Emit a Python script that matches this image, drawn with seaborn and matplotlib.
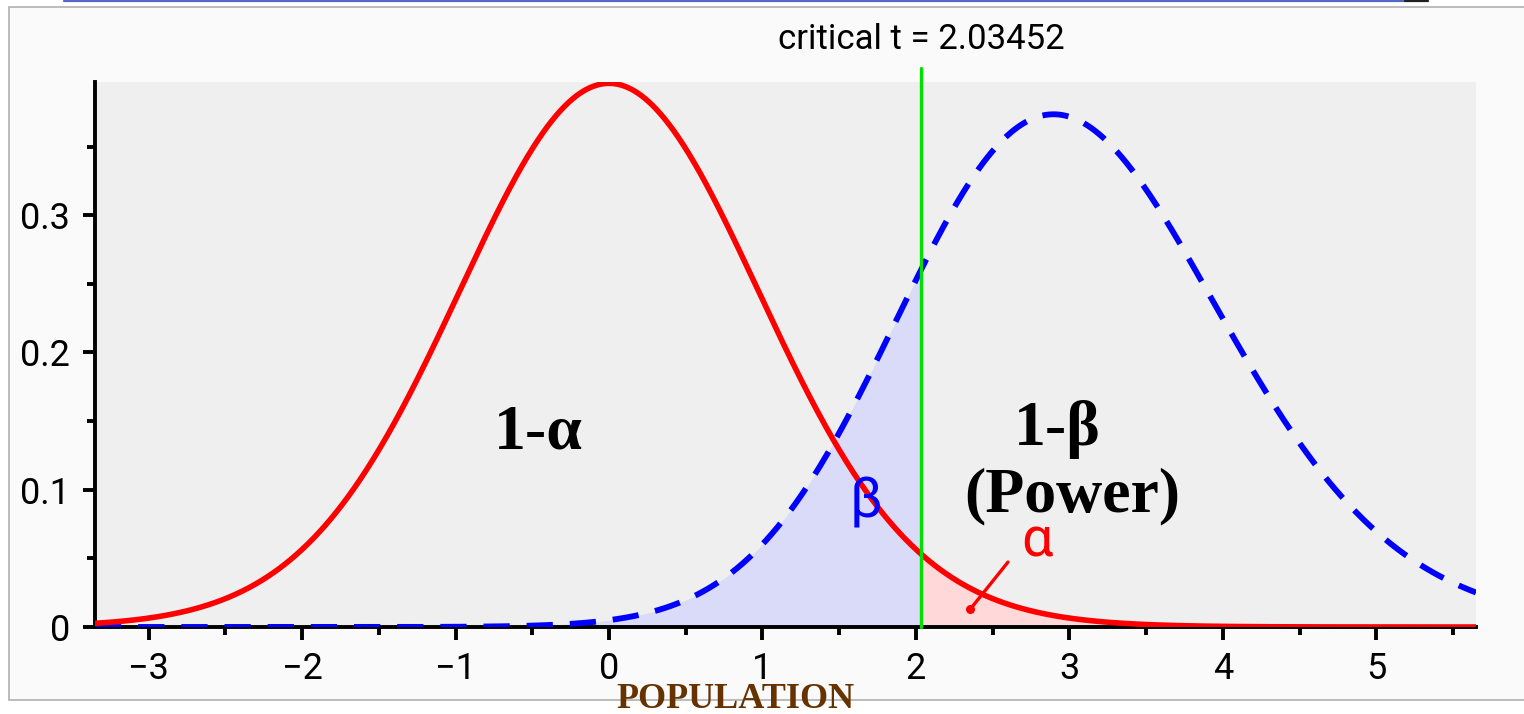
import math

import numpy as np
import pandas as pd
import matplotlib
matplotlib.use("Agg")
import matplotlib.pyplot as plt
from matplotlib.patches import Rectangle
from matplotlib.lines import Line2D
from matplotlib.ticker import MultipleLocator
import seaborn as sns

# Two-sided t test at alpha = 0.05: central t under H0, noncentral t under H1
df_t = 34
noncentrality = 2.95804
critical_t = 2.03452

x_limits = [-3.35, 5.65]
y_limits = [0.0, 0.397]
x_major_ticks = [-3, -2, -1, 0, 1, 2, 3, 4, 5]
y_major_ticks = [0.0, 0.1, 0.2, 0.3]
y_tick_labels = ["0", "0.1", "0.2", "0.3"]

region_labels = ["1-α", "1-β", "(Power)"]
error_labels = ["β", "α"]
bottom_title = "POPULATION"

W, H = 1524, 714


def t_pdf(x, nu):
    c = math.exp(math.lgamma((nu + 1) / 2) - math.lgamma(nu / 2)) / math.sqrt(nu * math.pi)
    return c * (1.0 + x ** 2 / nu) ** (-(nu + 1) / 2)


def nct_pdf(x, nu, delta, n_grid=3000):
    # f(t) = E_S[ S * phi(t*S - delta) ],  S = sqrt(V / nu), V ~ chi2(nu)
    s = np.linspace(0.15, 2.5, n_grid)
    log_h = (math.log(2) + (nu / 2) * math.log(nu / 2) - math.lgamma(nu / 2)
             + (nu - 1) * np.log(s) - nu * s ** 2 / 2)
    h = np.exp(log_h)
    z = np.outer(x, s) - delta
    phi = np.exp(-0.5 * z ** 2) / math.sqrt(2 * math.pi)
    return np.trapezoid(phi * s * h, s, axis=1)


x = np.union1d(np.linspace(x_limits[0], x_limits[1], 1201), [critical_t])
curves = pd.DataFrame({
    "t": x,
    "H0": t_pdf(x, df_t),
    "H1": nct_pdf(x, df_t, noncentrality),
})

sns.set_theme(style="ticks")
plt.rcParams["font.family"] = ["Roboto", "DejaVu Sans"]
serif_bold = ["Liberation Serif", "DejaVu Serif"]

fig = plt.figure(figsize=(W / 100, H / 100), dpi=100, facecolor="white")

# window panel behind the plot
fig.add_artist(Rectangle((9 / W, 1 - 700 / H), 1.0, (700 - 7) / H,
                         transform=fig.transFigure, facecolor="#fafafa",
                         edgecolor="#b0b0b0", lw=1.2, zorder=-5))
fig.add_artist(Line2D([64 / W, 1405 / W], [1 - 0.8 / H] * 2, transform=fig.transFigure,
                      color="#5468c8", lw=1.6, zorder=-4))
fig.add_artist(Line2D([1405 / W, 1428 / W], [1 - 0.8 / H] * 2, transform=fig.transFigure,
                      color="#202020", lw=1.6, zorder=-4))

ax = fig.add_axes([95 / W, 1 - 627 / H, (1476 - 95) / W, (627 - 82) / H])
ax.set_facecolor("#efefef")

# shaded error regions
left = curves["t"] <= critical_t
right = curves["t"] >= critical_t
ax.fill_between(curves["t"][left], curves["H1"][left], color="#dadaf9", lw=0, zorder=1)
ax.fill_between(curves["t"][right], curves["H0"][right], color="#ffd9d9", lw=0, zorder=1)

sns.lineplot(data=curves, x="t", y="H1", color="#0000ff", lw=4.2, ax=ax, zorder=3)
ax.lines[-1].set_dashes((4.5, 2.9))
sns.lineplot(data=curves, x="t", y="H0", color="#ff0000", lw=4.0, ax=ax, zorder=4)

# critical value marker
ax.plot([critical_t, critical_t], [0, 0.407], color="#00e000", lw=2.4,
        clip_on=False, zorder=5)
ax.text(critical_t, 0.4209, f"critical t = {critical_t:.5f}", ha="center",
        va="baseline", fontsize=25, color="black", clip_on=False)

ax.set_xlim(x_limits)
ax.set_ylim(y_limits)
ax.set_xticks(x_major_ticks)
ax.set_yticks(y_major_ticks, y_tick_labels)
ax.xaxis.set_minor_locator(MultipleLocator(0.5))
ax.yaxis.set_minor_locator(MultipleLocator(0.05))
ax.set_xlabel("")
ax.set_ylabel("")

for side in ["top", "right"]:
    ax.spines[side].set_visible(False)
for side in ["left", "bottom"]:
    ax.spines[side].set_linewidth(2.8)
    ax.spines[side].set_color("black")

ax.tick_params(which="major", length=9, width=2.8, color="black",
               labelsize=26, labelcolor="black")
ax.tick_params(which="minor", length=5.5, width=2.8, color="black")
ax.tick_params(axis="x", which="major", pad=8)
ax.tick_params(axis="y", which="major", pad=9)

# region annotations
ax.text(-0.46, 0.1303, region_labels[0], ha="center", va="baseline",
        fontsize=46, fontweight="bold", family=serif_bold, color="black")
ax.text(2.92, 0.1325, region_labels[1], ha="center", va="baseline",
        fontsize=46, fontweight="bold", family=serif_bold, color="black")
ax.text(3.02, 0.084, region_labels[2], ha="center", va="baseline",
        fontsize=46, fontweight="bold", family=serif_bold, color="black")
ax.text(1.676, 0.0794, error_labels[0], ha="center", va="baseline",
        fontsize=40, color="#0000ff", zorder=6)
ax.text(2.79, 0.0515, error_labels[1], ha="center", va="baseline",
        fontsize=40, color="#ff0000", zorder=6)
ax.plot([2.60, 2.355], [0.0473, 0.0131], color="#ff0000", lw=2.4, zorder=6)
ax.plot([2.355], [0.0131], "o", color="#ff0000", ms=5.5, zorder=6)

fig.text(735 / W, 1 - 708 / H, bottom_title, ha="center", va="baseline",
         fontsize=26, fontweight="bold", family=serif_bold, color="#663300")

fig.savefig("out.png", dpi=100, facecolor=fig.get_facecolor())
